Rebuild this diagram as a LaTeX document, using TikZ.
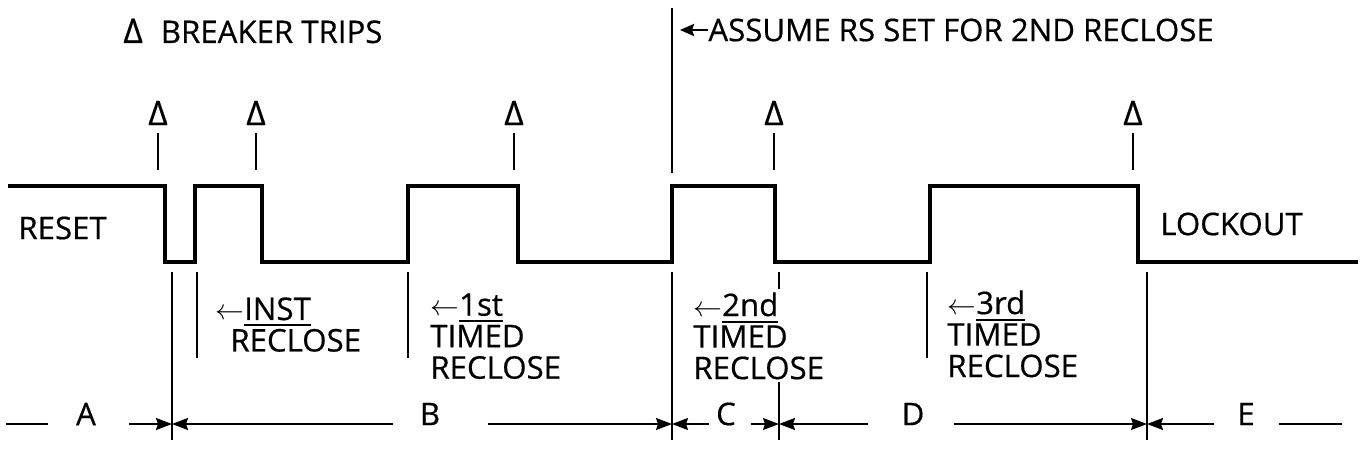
\documentclass[tikz,border=0pt]{standalone}
\usepackage{fontspec}
\setmainfont{Open Sans}[FakeBold=0.5]
\usetikzlibrary{arrows.meta}

% bar under the ordinal of a reclose label
\newcommand{\ordline}[1]{\setbox0\hbox{#1}\rlap{\rule[-3.2pt]{\wd0}{1pt}}\box0}

\begin{document}
\begin{tikzpicture}[x=0.5pt,y=-0.5pt,
  wave/.style={line width=2.2pt,line join=miter},
  guide/.style={line width=0.9pt},
  dim/.style={guide,-{Stealth[length=8pt,width=6pt,inset=1pt]}},
  lbl/.style={inner sep=0pt,font=\fontsize{15.6}{15.75}\selectfont},
  blk/.style={lbl,align=left,anchor=north west},
  trip/.style={inner sep=0pt,font=\fontsize{17}{18}\selectfont}]
  \def\Hi{186}
  \def\Lo{262}
  \def\Top{272}
  \def\Mid{358}
  \def\Bot{440}
  \def\Dy{424}

  \useasboundingbox (0,0) rectangle (1364,455);

  % ================= breaker state =================
  \draw[wave] (8,\Hi) -- (165,\Hi) -- (165,\Lo) -- (195,\Lo) -- (195,\Hi)
    -- (262,\Hi) -- (262,\Lo) -- (408,\Lo) -- (408,\Hi) -- (518,\Hi)
    -- (518,\Lo) -- (672,\Lo) -- (672,\Hi) -- (775,\Hi) -- (775,\Lo)
    -- (930,\Lo) -- (930,\Hi) -- (1138,\Hi) -- (1138,\Lo) -- (1358,\Lo);

  % trip marks over the falling edges
  \foreach \x [count=\i] in {158,256,514,774,1133} {
    \node[trip] (trip\i) at (\x,113) {Δ};
    \draw[guide] (trip\i.south) ++(0,7) -- ++(0,37);
  }

  % ================= top notes =================
  \node[lbl,anchor=west] (legend) at (123,31)
    {{\fontsize{17}{18}\selectfont Δ}\hspace{9pt}BREAKER TRIPS};
  \node[lbl,anchor=west] (assume) at (708,30) {ASSUME RS SET FOR 2ND RECLOSE};
  \coordinate (rsmark) at (680,30);
  \draw[line width=1.3pt,-{Stealth[length=7pt,width=6pt,inset=1pt]}] (assume.west) -- (rsmark);
  \draw[guide] (672,8) -- (672,173);

  \node[lbl,anchor=west] (reset) at (18,228) {RESET};
  \node[lbl,anchor=west] (lockout) at (1160,224) {LOCKOUT};

  % ================= reclose guides =================
  \foreach \x in {197,408,927} \draw[guide] (\x,\Top) -- (\x,\Mid);
  \foreach \x [count=\i] in {172,672,779,1147} {
    \draw[guide] (\x,\Top) -- (\x,\Bot);
    \coordinate (bnd\i) at (\x,\Dy);
  }

  \node[blk] (inst) at (215,297) {$\leftarrow$\ordline{INST}\\\hspace*{7.5pt}RECLOSE};
  \node[blk] (first) at (430,293) {$\leftarrow$\ordline{1st}\\TIMED\\RECLOSE};
  \node[blk,fill=white,inner sep=1.5pt] (second) at (690,289)
    {$\leftarrow$\ordline{2nd}\\TIMED\\RECLOSE};
  \node[blk] (third) at (947,290) {$\leftarrow$\ordline{3rd}\\TIMED\\RECLOSE};

  % ================= intervals =================
  \node[lbl] (A) at (86,414) {A};
  \node[lbl] (B) at (430,414) {B};
  \node[lbl] (C) at (726,414) {C};
  \node[lbl] (D) at (913,414) {D};
  \node[lbl] (E) at (1246,414) {E};

  \draw[guide] ([xshift=-14pt]A.west |- bnd1) -- ++(-42,0);
  \draw[dim] ([xshift=16.5pt]A.east |- bnd1) -- (bnd1);
  \draw[dim] ([xshift=-13pt]B.west |- bnd1) -- (bnd1);
  \draw[dim] ([xshift=23.5pt]B.east |- bnd2) -- (bnd2);
  \draw[dim] ([xshift=-3.5pt]C.west |- bnd2) -- (bnd2);
  \draw[dim] ([xshift=7.5pt]C.east |- bnd3) -- (bnd3);
  \draw[dim] ([xshift=-16.5pt]D.west |- bnd3) -- (bnd3);
  \draw[dim] ([xshift=14.5pt]D.east |- bnd4) -- (bnd4);
  \draw[dim] ([xshift=-11.5pt]E.west |- bnd4) -- (bnd4);
  \draw[guide] ([xshift=12pt]E.east |- bnd4) -- ++(63,0);
\end{tikzpicture}
\end{document}
